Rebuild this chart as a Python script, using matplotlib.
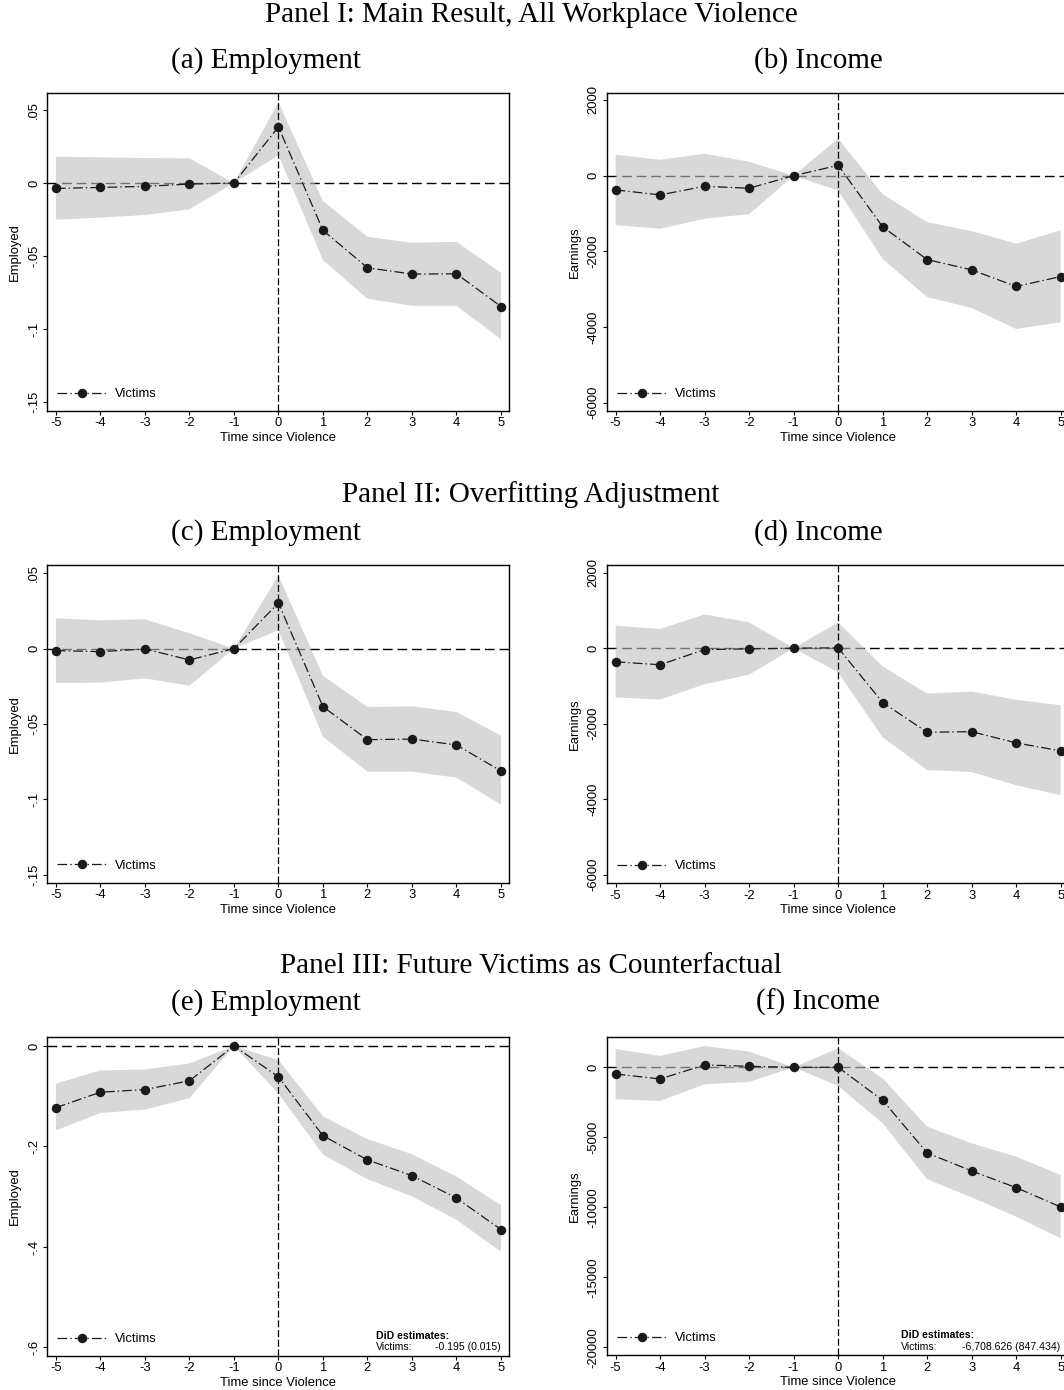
import matplotlib
matplotlib.use("Agg")
import matplotlib.pyplot as plt
import matplotlib.transforms as mtransforms

plt.rcParams['lines.scale_dashes'] = False
plt.rcParams['font.family'] = ['Liberation Sans', 'DejaVu Sans']

# ---------------- data ----------------
t = [-5, -4, -3, -2, -1, 0, 1, 2, 3, 4, 5]
xticks = [-5, -4, -3, -2, -1, 0, 1, 2, 3, 4, 5]

# Panel I
emp_a = [-0.0037, -0.0030, -0.0023, -0.0007, 0.0, 0.0384, -0.0324, -0.0580, -0.0623, -0.0621, -0.0845]
emp_a_hi = [0.0180, 0.0176, 0.0171, 0.0169, 0.0, 0.0553, -0.0123, -0.0368, -0.0409, -0.0402, -0.0614]
emp_a_lo = [-0.0251, -0.0237, -0.0219, -0.0180, 0.0, 0.0190, -0.0527, -0.0792, -0.0840, -0.0840, -0.1068]

inc_b = [-377, -509, -281, -333, 0, 272, -1351, -2219, -2491, -2930, -2667]
inc_b_hi = [553, 421, 579, 368, 0, 982, -491, -1228, -1465, -1798, -1447]
inc_b_lo = [-1307, -1404, -1140, -1018, 0, -395, -2202, -3211, -3500, -4053, -3877]

# Panel II
emp_c = [-0.0013, -0.0020, -0.0002, -0.0075, 0.0, 0.0303, -0.0385, -0.0604, -0.0600, -0.0639, -0.0812]
emp_c_hi = [0.0201, 0.0188, 0.0195, 0.0102, 0.0, 0.0485, -0.0179, -0.0387, -0.0383, -0.0420, -0.0577]
emp_c_lo = [-0.0228, -0.0226, -0.0197, -0.0246, 0.0, 0.0122, -0.0584, -0.0816, -0.0816, -0.0856, -0.1035]

inc_d = [-360, -439, -35, -18, 0, 9, -1439, -2228, -2211, -2509, -2719]
inc_d_hi = [596, 509, 895, 684, 0, 684, -482, -1202, -1149, -1368, -1509]
inc_d_lo = [-1307, -1360, -956, -702, 0, -640, -2360, -3228, -3281, -3632, -3895]

# Panel III
emp_e = [-0.1227, -0.0920, -0.0867, -0.0693, 0.0, -0.0613, -0.1787, -0.2267, -0.2580, -0.3027, -0.3653]
emp_e_hi = [-0.0747, -0.0487, -0.0467, -0.0347, 0.0, -0.0280, -0.1400, -0.1853, -0.2153, -0.2600, -0.3167]
emp_e_lo = [-0.1680, -0.1333, -0.1267, -0.1040, 0.0, -0.0947, -0.2160, -0.2653, -0.2993, -0.3460, -0.4093]

inc_f = [-476, -833, 167, 71, 0, 0, -2357, -6119, -7405, -8595, -9976]
inc_f_hi = [1310, 810, 1524, 1119, 0, 1357, -786, -4238, -5429, -6381, -7690]
inc_f_lo = [-2286, -2405, -1214, -1048, 0, -1333, -4000, -8000, -9286, -10667, -12214]

emp_ticks_12 = [-0.15, -0.1, -0.05, 0, 0.05]
emp_ticklabels_12 = ['-.15', '-.1', '-.05', '0', '.05']
inc_ticks_12 = [-6000, -4000, -2000, 0, 2000]
inc_ticklabels_12 = ['-6000', '-4000', '-2000', '0', '2000']
emp_ticks_3 = [-0.6, -0.4, -0.2, 0]
emp_ticklabels_3 = ['-.6', '-.4', '-.2', '0']
inc_ticks_3 = [-20000, -15000, -10000, -5000, 0]
inc_ticklabels_3 = ['-20000', '-15000', '-10000', '-5000', '0']

did_title = 'DiD estimates:'
did_label = 'Victims:'
did_e = '-0.195 (0.015)'
did_f = '-6,708.626 (847.434)'

panel_titles = ['Panel I: Main Result, All Workplace Violence',
                'Panel II: Overfitting Adjustment',
                'Panel III: Future Victims as Counterfactual']
sub_titles = [['(a) Employment', '(b) Income'],
              ['(c) Employment', '(d) Income'],
              ['(e) Employment', '(f) Income']]
series_label = 'Victims'
xlabel = 'Time since Violence'

# ---------------- figure ----------------
W, H = 1064, 1390
fig = plt.figure(figsize=(W / 100, H / 100), dpi=100)

def px_axes(left, top, w, h):
    return fig.add_axes([left / W, 1 - (top + h) / H, w / W, h / H])

LINE_COL = '#1a1a1a'
FS = 9.4
FS_DID = 7.6

def draw(ax, y, lo, hi, ylim, yticks, yticklabels, ylab, did=None, did_x=None):
    ax.set_xlim(-5.2, 5.18)
    ax.set_ylim(*ylim)
    ax.fill_between(t, lo, hi, facecolor=(0.75, 0.75, 0.75), alpha=0.6,
                    linewidth=0, zorder=2)
    ax.axhline(0, color='#000000', lw=1.0, linestyle=(0, (7, 3.5)), zorder=1)
    ax.axvline(0, color='#000000', lw=0.9, linestyle=(0, (5, 2)), zorder=3)
    ln, = ax.plot(t, y, color=LINE_COL, lw=0.9, linestyle=(0, (7, 2.2, 1, 2.2)),
                  marker='o', markersize=5.8, markerfacecolor=LINE_COL,
                  markeredgecolor=LINE_COL, zorder=4, clip_on=False)
    ax.set_xticks(xticks)
    ax.set_xticklabels([str(v) for v in xticks])
    ax.set_yticks(yticks)
    ax.set_yticklabels(yticklabels)
    ax.tick_params(axis='both', direction='out', length=3, width=0.8,
                   labelsize=FS, colors='#000000')
    ax.tick_params(axis='x', pad=1.5)
    ax.tick_params(axis='y', pad=2)
    for lab in ax.get_yticklabels():
        lab.set_rotation(90)
        lab.set_va('center')
        lab.set_ha('right')
    for sp in ax.spines.values():
        sp.set_linewidth(1.0)
        sp.set_color('#000000')
    bb = ax.get_position()
    hpx = bb.height * H
    wpx = bb.width * W
    ax.set_xlabel(xlabel, fontsize=FS)
    ax.xaxis.set_label_coords(0.5, -27 / hpx)
    ax.xaxis.label.set_va('center')
    ax.set_ylabel(ylab, fontsize=FS)
    ax.yaxis.set_label_coords(-32 / wpx, 0.5)
    ax.yaxis.label.set_va('center')
    ax.legend([ln], [series_label], loc='center left',
              bbox_to_anchor=(10 / wpx, 17 / hpx), frameon=False,
              borderpad=0, borderaxespad=0, handlelength=3.85,
              handletextpad=0.62, fontsize=FS, numpoints=1)
    if did is not None:
        tr = mtransforms.blended_transform_factory(ax.transData, ax.transAxes)
        ax.text(did_x, 20 / hpx, did_title, transform=tr, fontsize=FS_DID,
                fontweight='bold', ha='left', va='center')
        ax.text(did_x, 8.5 / hpx, did_label, transform=tr, fontsize=FS_DID,
                ha='left', va='center')
        ax.text(5.0, 8.5 / hpx, did, transform=tr, fontsize=FS_DID,
                ha='right', va='center')

ax_a = px_axes(47, 93, 462, 318)
ax_b = px_axes(606.7, 93, 462, 318)
ax_c = px_axes(47, 565.3, 462, 317.4)
ax_d = px_axes(606.7, 565.3, 462, 318)
ax_e = px_axes(47, 1036.7, 462, 319.3)
ax_f = px_axes(606.7, 1037.3, 462, 318)

draw(ax_a, emp_a, emp_a_lo, emp_a_hi, (-0.156, 0.0616), emp_ticks_12, emp_ticklabels_12, 'Employed')
draw(ax_b, inc_b, inc_b_lo, inc_b_hi, (-6222, 2185), inc_ticks_12, inc_ticklabels_12, 'Earnings')
draw(ax_c, emp_c, emp_c_lo, emp_c_hi, (-0.1553, 0.0553), emp_ticks_12, emp_ticklabels_12, 'Employed')
draw(ax_d, inc_d, inc_d_lo, inc_d_hi, (-6228, 2196), inc_ticks_12, inc_ticklabels_12, 'Earnings')
draw(ax_e, emp_e, emp_e_lo, emp_e_hi, (-0.617, 0.0185), emp_ticks_3, emp_ticklabels_3, 'Employed',
     did=did_e, did_x=2.19)
draw(ax_f, inc_f, inc_f_lo, inc_f_hi, (-20571, 2143), inc_ticks_3, inc_ticklabels_3, 'Earnings',
     did=did_f, did_x=1.42)

# titles (baselines in pixel rows)
SERIF = ['Liberation Serif', 'DejaVu Serif']
title_rows = [22, 502, 973]
sub_rows = [68, 540, 1010]
for i in range(3):
    fig.text(531 / W, 1 - title_rows[i] / H, panel_titles[i], family=SERIF,
             fontsize=21, ha='center', va='baseline')
    fig.text(266 / W, 1 - sub_rows[i] / H, sub_titles[i][0], family=SERIF,
             fontsize=21, ha='center', va='baseline')
    fig.text(818 / W, 1 - sub_rows[i] / H, sub_titles[i][1], family=SERIF,
             fontsize=21, ha='center', va='baseline')

fig.savefig('out.png', dpi=100, facecolor='white')
